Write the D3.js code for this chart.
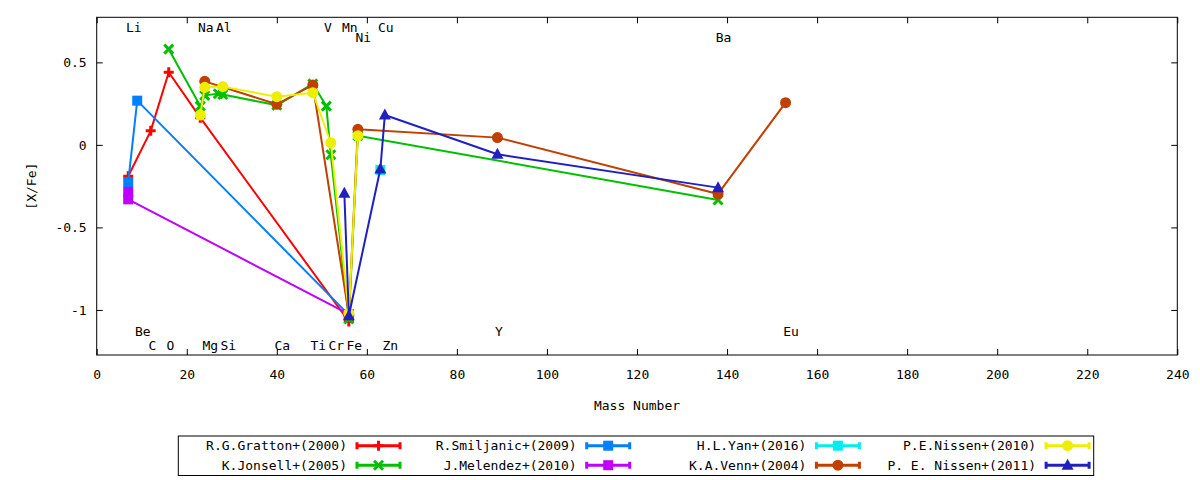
<!DOCTYPE html>
<html>
<head>
<meta charset="utf-8">
<script src="https://cdn.jsdelivr.net/npm/d3@7"></script>
<style>
  html, body { margin: 0; padding: 0; background: #fff; }
  svg text { font-family: "DejaVu Sans Mono", monospace; font-size: 13px; fill: #000; }
</style>
</head>
<body>
<svg id="chart" width="1200" height="480"></svg>
<script>
// ---------------- data ----------------
const xTicks = [0, 20, 40, 60, 80, 100, 120, 140, 160, 180, 200, 220, 240];
const yTicks = [-1, -0.5, 0, 0.5];
const yTickLabels = ["-1", "-0.5", "0", "0.5"];

// element annotations: name, mass number, label level
const elemNames = ["Li", "Na", "Al", "V", "Mn", "Cu", "Ni", "Ba", "Be", "Y", "Eu", "C", "O", "Mg", "Si", "Ca", "Ti", "Cr", "Fe", "Zn"];
const elemMass  = [7, 23, 27, 51, 55, 63, 58, 138, 9, 89, 153, 12, 16, 24, 28, 40, 48, 52, 56, 64];
const elemLevel = [0.686, 0.686, 0.686, 0.686, 0.686, 0.686, 0.622, 0.622, -1.157, -1.157, -1.157,
                   -1.242, -1.242, -1.242, -1.242, -1.242, -1.242, -1.242, -1.242, -1.242];

const seriesNames = ["R.G.Gratton+(2000)", "K.Jonsell+(2005)", "R.Smiljanic+(2009)", "J.Melendez+(2010)",
                     "H.L.Yan+(2016)", "K.A.Venn+(2004)", "P.E.Nissen+(2010)", "P. E. Nissen+(2011)"];

const grattonX = [7, 12, 16, 23, 56];
const grattonY = [-0.19, 0.085, 0.44, 0.165, -1.07];
const jonsellX = [16, 23, 24, 27, 28, 40, 48, 51, 52, 56, 58, 138];
const jonsellY = [0.58, 0.235, 0.30, 0.31, 0.305, 0.24, 0.37, 0.235, -0.06, -1.055, 0.056, -0.334];
const smiljanicX = [7, 9, 56];
const smiljanicY = [-0.225, 0.268, -1.03];
const melendezX = [7, 7, 56];
const melendezY = [-0.285, -0.33, -1.025];
const yanX = [63];
const yanY = [-0.152];
const vennX = [24, 40, 48, 56, 58, 89, 138, 153];
const vennY = [0.385, 0.246, 0.363, -1.03, 0.094, 0.044, -0.297, 0.256];
const nissen10X = [23, 24, 28, 40, 48, 52, 56, 58];
const nissen10Y = [0.181, 0.349, 0.353, 0.292, 0.316, 0.013, -1.02, 0.056];
const nissen11X = [55, 56, 63, 64, 89, 138];
const nissen11Y = [-0.293, -1.035, -0.146, 0.181, -0.057, -0.259];

// ---------------- styles ----------------
const colors = ["#ff0000", "#00c000", "#0080ff", "#c000ff", "#00eeee", "#c04000", "#eeee00", "#2020c0"];
const markers = ["plus", "cross", "square", "square", "square", "circle", "circle", "triangle"];
const seriesX = [grattonX, jonsellX, smiljanicX, melendezX, yanX, vennX, nissen10X, nissen11X];
const seriesY = [grattonY, jonsellY, smiljanicY, melendezY, yanY, vennY, nissen10Y, nissen11Y];

const svg = d3.select("#chart");
const L = 96.7, R = 1177.3, T = 17.3, B = 355;
const x = d3.scaleLinear().domain([0, 240]).range([L, R]);
const y = d3.scaleLinear().domain([-1.273, 0.773]).range([B, T]);

// axes (ticks pointing inward, mirrored)
const ax = svg.append("g");
ax.append("g").attr("transform", `translate(0,${B})`)
  .call(d3.axisBottom(x).tickValues(xTicks).tickFormat(d3.format("d")).tickSizeInner(-6).tickSizeOuter(0).tickPadding(15));
ax.append("g").attr("transform", `translate(0,${T})`)
  .call(d3.axisTop(x).tickValues(xTicks).tickFormat("").tickSizeInner(-6).tickSizeOuter(0));
ax.append("g").attr("transform", `translate(${L},0)`)
  .call(d3.axisLeft(y).tickValues(yTicks).tickFormat((d, i) => yTickLabels[i]).tickSizeInner(-6).tickSizeOuter(0).tickPadding(10));
ax.append("g").attr("transform", `translate(${R},0)`)
  .call(d3.axisRight(y).tickValues(yTicks).tickFormat("").tickSizeInner(-6).tickSizeOuter(0));
ax.selectAll(".domain").remove();
ax.selectAll(".tick line").attr("stroke", "#000").attr("stroke-width", 1);
ax.selectAll("text").attr("font-family", "DejaVu Sans Mono").attr("font-size", 13).attr("fill", "#000");
ax.selectAll("g").attr("font-family", null).attr("font-size", null);

svg.append("rect").attr("x", L).attr("y", T).attr("width", R - L).attr("height", B - T)
  .attr("fill", "none").attr("stroke", "#000").attr("stroke-width", 1);

// axis titles
svg.append("text").attr("x", (L + R) / 2).attr("y", 410).attr("text-anchor", "middle").text("Mass Number");
svg.append("text").attr("transform", `translate(36,${(T + B) / 2}) rotate(-90)`).attr("text-anchor", "middle").text("[X/Fe]");

// element labels
svg.append("g").selectAll("text").data(elemNames).join("text")
  .attr("x", (d, i) => x(elemMass[i]) - 2.3)
  .attr("y", (d, i) => y(elemLevel[i]))
  .attr("text-anchor", "start")
  .text(d => d);

// marker drawing
function drawMarker(g, type, color) {
  if (type === "plus") {
    g.append("path").attr("d", "M-5,0H5M0,-5V5").attr("stroke", color).attr("stroke-width", 3).attr("fill", "none");
  } else if (type === "cross") {
    g.append("path").attr("d", "M-4.5,-4.5L4.5,4.5M-4.5,4.5L4.5,-4.5").attr("stroke", color).attr("stroke-width", 3).attr("fill", "none");
  } else if (type === "square") {
    g.append("rect").attr("x", -5).attr("y", -5).attr("width", 10).attr("height", 10).attr("fill", color);
  } else if (type === "circle") {
    g.append("circle").attr("r", 5.5).attr("fill", color);
  } else if (type === "triangle") {
    g.append("path").attr("d", "M0,-6.5L6,4.5L-6,4.5Z").attr("fill", color);
  }
}

const line = d3.line().x(d => x(d[0])).y(d => y(d[1]));
const plot = svg.append("g");
seriesX.forEach((xs, s) => {
  const pts = xs.map((v, i) => [v, seriesY[s][i]]);
  const g = plot.append("g");
  g.append("path").attr("d", line(pts)).attr("fill", "none").attr("stroke", colors[s])
    .attr("stroke-width", 2).attr("stroke-linejoin", "round");
  pts.forEach(p => {
    const m = g.append("g").attr("transform", `translate(${x(p[0])},${y(p[1])})`);
    drawMarker(m, markers[s], colors[s]);
  });
});

// legend
const lg = svg.append("g");
lg.append("rect").attr("x", 178.3).attr("y", 436).attr("width", 1093.7 - 178.3).attr("height", 39.5)
  .attr("fill", "none").attr("stroke", "#000").attr("stroke-width", 1);
seriesNames.forEach((name, s) => {
  const col = Math.floor(s / 2), row = s % 2;
  const tx = 347 + col * 229.7;
  const ty = 445.7 + row * 19.5;
  lg.append("text").attr("x", tx).attr("y", ty).attr("dy", "0.35em").attr("text-anchor", "end").text(name);
  const x0 = tx + 10, x1 = tx + 53;
  lg.append("path").attr("d", `M${x0},${ty}H${x1}M${x0},${ty - 3.5}V${ty + 3.5}M${x1},${ty - 3.5}V${ty + 3.5}`)
    .attr("stroke", colors[s]).attr("stroke-width", 3).attr("fill", "none");
  const m = lg.append("g").attr("transform", `translate(${(x0 + x1) / 2},${ty})`);
  drawMarker(m, markers[s], colors[s]);
});
</script>
</body>
</html>
